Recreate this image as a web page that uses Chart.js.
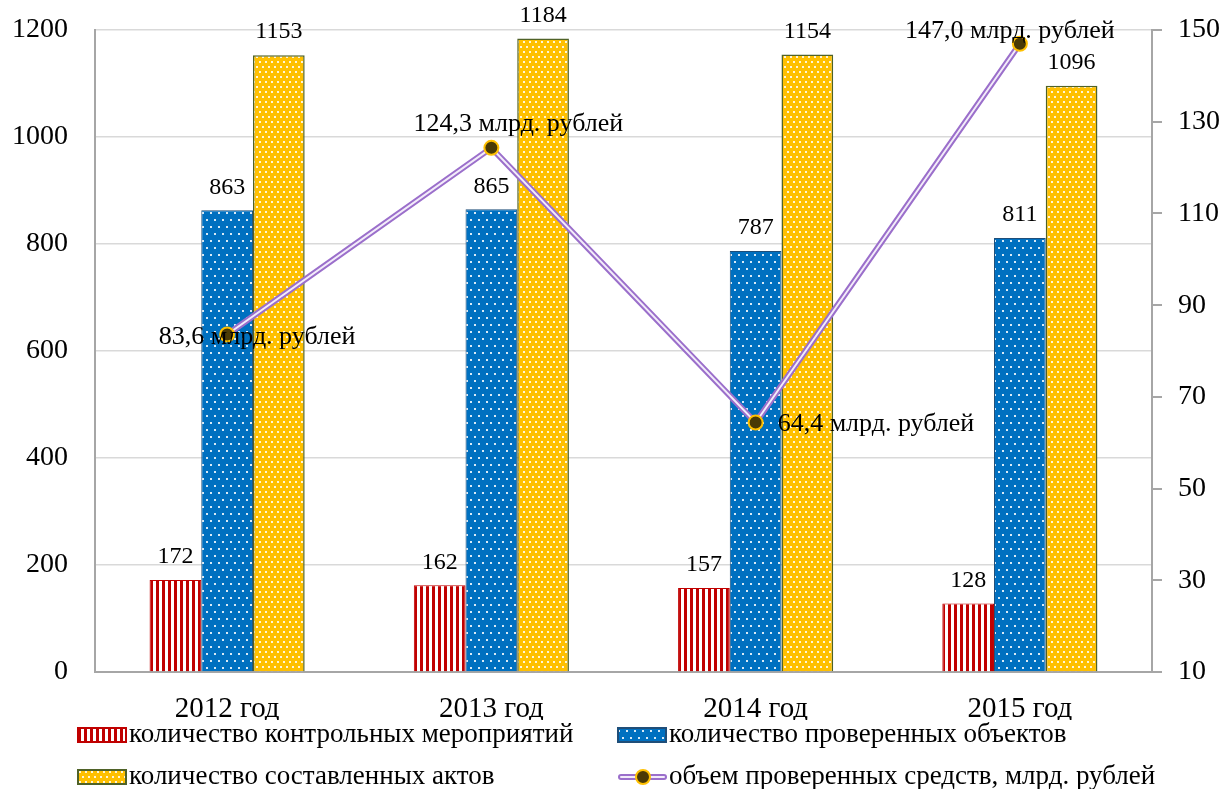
<!DOCTYPE html>
<html>
<head>
<meta charset="utf-8">
<script src="https://cdn.jsdelivr.net/npm/chart.js@4/dist/chart.umd.min.js"></script>
<style>
  html, body { margin: 0; padding: 0; background: #fff; }
  #chart { display: block; }
</style>
</head>
<body>
<canvas id="chart" width="1226" height="789"></canvas>
<script>
const years = ['2012 год', '2013 год', '2014 год', '2015 год'];
const eventsCount = [172, 162, 157, 128];
const objectsCount = [863, 865, 787, 811];
const actsCount = [1153, 1184, 1154, 1096];
const fundsVolume = [83.6, 124.3, 64.4, 147.0];

const leftTicks = [0, 200, 400, 600, 800, 1000, 1200];
const rightTicks = [10, 30, 50, 70, 90, 110, 130, 150];

const serif = '"Liberation Serif", "Times New Roman", serif';

// patterns for bars
function makePattern(w, h, bg, drawFn) {
  const c = document.createElement('canvas');
  c.width = w; c.height = h;
  const g = c.getContext('2d');
  g.fillStyle = bg;
  g.fillRect(0, 0, w, h);
  drawFn(g);
  return g.createPattern(c, 'repeat');
}
const ctx = document.getElementById('chart').getContext('2d');
const redStripes = makePattern(6, 6, '#ffffff', g => {
  g.fillStyle = '#C00000';
  g.fillRect(0, 0, 3, 6);
});
const blueDots = makePattern(8, 14, '#0070C0', g => {
  g.fillStyle = 'rgba(255,255,255,0.85)';
  g.fillRect(2, 2, 2, 2);
  g.fillRect(6, 9, 2, 2);
});
const yellowDots = makePattern(6, 10, '#FFC000', g => {
  g.fillStyle = 'rgba(255,255,255,0.85)';
  g.fillRect(1, 1, 2, 2);
  g.fillRect(4, 6, 2, 2);
});

const fmt = v => v.toFixed(1).replace('.', ',') + ' млрд. рублей';

// label positions for the line values, relative to the point
const lineLabelOffsets = [[30, 3, 'center'], [27, -24, 'center'], [22, 2, 'left'], [-10, -13, 'center']];

const labelsPlugin = {
  id: 'valueLabels',
  afterDatasetsDraw(chart) {
    const c = chart.ctx;
    c.save();
    c.fillStyle = '#000';
    c.font = '24px ' + serif;
    c.textAlign = 'center';
    c.textBaseline = 'bottom';
    [2, 3, 4].forEach(di => {
      const meta = chart.getDatasetMeta(di);
      meta.data.forEach((bar, i) => {
        c.fillText(String(chart.data.datasets[di].data[i]), bar.x, bar.y - 11);
      });
    });
    const lm = chart.getDatasetMeta(0);
    c.font = '26px ' + serif;
    c.textBaseline = 'middle';
    lm.data.forEach((pt, i) => {
      const o = lineLabelOffsets[i];
      c.textAlign = o[2];
      c.fillText(fmt(fundsVolume[i]), pt.x + o[0], pt.y + o[1]);
    });
    c.restore();
  }
};

const legendPlugin = {
  id: 'gridLegend',
  afterDraw(chart) {
    const c = chart.ctx;
    c.save();
    c.font = '27px ' + serif;
    c.fillStyle = '#000';
    c.textBaseline = 'middle';
    c.textAlign = 'left';
    const items = [
      { x: 78, y: 735, ds: 2 },
      { x: 618, y: 735, ds: 3 },
      { x: 78, y: 777, ds: 4 },
      { x: 618, y: 777, ds: 0 }
    ];
    items.forEach(it => {
      const d = chart.data.datasets[it.ds];
      if (d.type === 'line') {
        c.lineCap = 'round';
        c.strokeStyle = '#9B6FCB';
        c.lineWidth = 6;
        c.beginPath(); c.moveTo(it.x + 3, it.y); c.lineTo(it.x + 46, it.y); c.stroke();
        c.strokeStyle = '#F3ECFA';
        c.lineWidth = 2;
        c.beginPath(); c.moveTo(it.x + 3, it.y); c.lineTo(it.x + 46, it.y); c.stroke();
        c.fillStyle = '#4A3A05';
        c.strokeStyle = '#FFC000';
        c.lineWidth = 2;
        c.beginPath(); c.arc(it.x + 25, it.y, 7, 0, Math.PI * 2); c.fill(); c.stroke();
        c.fillStyle = '#000';
      } else {
        c.fillStyle = d.backgroundColor;
        c.fillRect(it.x, it.y - 7, 48, 14);
        c.strokeStyle = d.borderColor;
        c.lineWidth = 2;
        c.strokeRect(it.x, it.y - 7, 48, 14);
        c.fillStyle = '#000';
      }
      c.fillText(d.label, it.x + 51, it.y);
    });
    c.restore();
  }
};

new Chart(ctx, {
  data: {
    labels: years,
    datasets: [
      {
        type: 'line',
        label: 'объем проверенных средств, млрд. рублей',
        data: fundsVolume,
        yAxisID: 'y1',
        borderColor: '#F3ECFA',
        borderWidth: 2,
        pointRadius: 7,
        pointBackgroundColor: '#4A3A05',
        pointBorderColor: '#FFC000',
        pointBorderWidth: 2,
        tension: 0,
        order: 0
      },
      {
        type: 'line',
        label: 'outer',
        data: fundsVolume,
        yAxisID: 'y1',
        borderColor: '#9B6FCB',
        borderWidth: 6,
        pointRadius: 0,
        tension: 0,
        order: 1
      },
      {
        type: 'bar',
        label: 'количество контрольных мероприятий',
        data: eventsCount,
        yAxisID: 'y',
        backgroundColor: redStripes,
        borderColor: '#C00000',
        borderWidth: 1,
        order: 2
      },
      {
        type: 'bar',
        label: 'количество проверенных объектов',
        data: objectsCount,
        yAxisID: 'y',
        backgroundColor: blueDots,
        borderColor: '#1F4E79',
        borderWidth: 1,
        order: 2
      },
      {
        type: 'bar',
        label: 'количество составленных актов',
        data: actsCount,
        yAxisID: 'y',
        backgroundColor: yellowDots,
        borderColor: '#4F6228',
        borderWidth: 1.5,
        order: 2
      }
    ]
  },
  options: {
    responsive: false,
    animation: false,
    events: [],
    categoryPercentage: 0.587,
    barPercentage: 1,
    layout: { padding: { top: 30, bottom: 69, left: 0, right: 0 } },
    plugins: {
      legend: { display: false },
      tooltip: { enabled: false }
    },
    scales: {
      x: {
        grid: { display: false },
        border: { display: true, color: '#A6A6A6', width: 2 },
        ticks: { font: { family: serif, size: 29 }, color: '#000', padding: 12, maxRotation: 0 },
        afterFit(s) { s.height = 48; s.paddingLeft = 0; s.paddingRight = 0; }
      },
      y: {
        position: 'left',
        min: 0, max: 1200,
        afterBuildTicks(s) { s.ticks = leftTicks.map(v => ({ value: v })); },
        grid: { color: '#D9D9D9', lineWidth: 1.5, drawTicks: false },
        border: { display: true, color: '#A6A6A6', width: 2 },
        ticks: { font: { family: serif, size: 28 }, color: '#000', padding: 27, callback: v => String(v) },
        afterFit(s) { s.width = 95; s.paddingTop = 0; s.paddingBottom = 0; }
      },
      y1: {
        position: 'right',
        min: 10, max: 150,
        afterBuildTicks(s) { s.ticks = rightTicks.map(v => ({ value: v })); },
        grid: { drawOnChartArea: false, color: '#A6A6A6', lineWidth: 2, tickLength: 10 },
        border: { display: true, color: '#A6A6A6', width: 2 },
        ticks: { font: { family: serif, size: 28 }, color: '#000', padding: 16, callback: v => String(v) },
        afterFit(s) { s.width = 74; s.paddingTop = 0; s.paddingBottom = 0; }
      }
    }
  },
  plugins: [labelsPlugin, legendPlugin]
});
</script>
</body>
</html>
